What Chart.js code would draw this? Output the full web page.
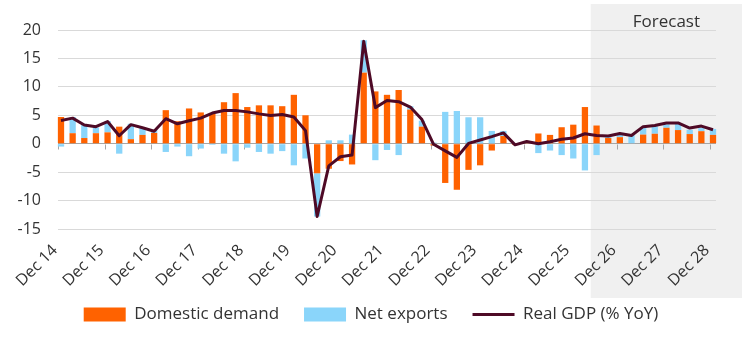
<!DOCTYPE html>
<html><head><meta charset="utf-8">
<script src="https://cdn.jsdelivr.net/npm/chart.js@4.4.1/dist/chart.umd.min.js"></script>
<style>html,body{margin:0;padding:0;background:#fff;}#wrap{width:742px;height:343px;}</style>
</head><body><div id="wrap"><canvas id="c" width="742" height="343"></canvas></div>
<script>
const quarters = [
 "Dec 14","Mar 15","Jun 15","Sep 15","Dec 15","Mar 16","Jun 16","Sep 16","Dec 16",
 "Mar 17","Jun 17","Sep 17","Dec 17","Mar 18","Jun 18","Sep 18","Dec 18",
 "Mar 19","Jun 19","Sep 19","Dec 19","Mar 20","Jun 20","Sep 20","Dec 20",
 "Mar 21","Jun 21","Sep 21","Dec 21","Mar 22","Jun 22","Sep 22","Dec 22",
 "Mar 23","Jun 23","Sep 23","Dec 23","Mar 24","Jun 24","Sep 24","Dec 24",
 "Mar 25","Jun 25","Sep 25","Dec 25","Mar 26","Jun 26","Sep 26","Dec 26",
 "Mar 27","Jun 27","Sep 27","Dec 27","Mar 28","Jun 28","Sep 28","Dec 28"];
const tickLabels = ["Dec 14","Dec 15","Dec 16","Dec 17","Dec 18","Dec 19","Dec 20","Dec 21","Dec 22","Dec 23","Dec 24","Dec 25","Dec 26","Dec 27","Dec 28"];
const domesticDemand = [4.7,1.85,1.0,1.85,2.0,3.0,0.8,1.55,1.9,5.9,3.95,6.2,5.5,5.3,7.3,8.9,6.45,6.75,6.75,6.6,8.6,5.0,-5.2,-4.4,-3.05,-3.65,12.5,9.2,8.6,9.45,6.0,3.0,-0.3,-6.9,-8.1,-4.6,-3.8,-1.2,1.35,-0.2,0.3,1.8,1.55,2.9,3.35,6.45,3.2,1.0,1.15,0.0,1.6,1.75,2.8,2.4,1.7,2.2,1.55];
const netExports = [-0.5,2.85,2.35,1.0,2.0,-1.75,2.7,1.2,0.5,-1.45,-0.5,-2.2,-0.85,-0.2,-1.75,-3.1,-0.7,-1.45,-1.75,-1.3,-3.8,-2.6,-7.6,0.6,0.6,1.6,5.7,-2.9,-1.1,-2.0,0.6,1.05,0.2,5.6,5.75,4.65,4.65,2.25,0.9,0.0,0.1,-1.65,-1.2,-2.0,-2.6,-4.7,-2.0,0.35,0.45,1.5,1.3,1.3,0.6,1.2,0.75,0.55,1.05];
const realGDP = [4.1,4.5,3.3,3.0,3.9,1.4,3.35,2.8,2.2,4.4,3.5,4.05,4.5,5.4,5.85,5.85,5.6,5.25,4.95,5.15,4.7,2.3,-12.8,-3.9,-2.3,-2.0,18.0,6.35,7.6,7.4,6.45,4.25,-0.1,-1.25,-2.4,0.05,0.65,1.25,1.9,-0.2,0.4,0.0,0.35,0.8,1.0,1.75,1.45,1.35,1.8,1.45,3.0,3.2,3.65,3.65,2.75,3.1,2.45];
const forecastStart = "Jun 26";
const yMin = -15, yMax = 20, yStep = 5;

const FONT = '"Open Sans", sans-serif';
const TXT = '#333333';

const decorPlugin = {
  id: 'decor',
  beforeDraw(chart) {
    const {ctx, scales: {x}} = chart;
    const i = quarters.indexOf(forecastStart);
    const left = (x.getPixelForValue(i - 1) + x.getPixelForValue(i)) / 2;
    ctx.save();
    ctx.fillStyle = '#f0f0f0';
    ctx.fillRect(left, 4, chart.width - left, 294);
    ctx.fillStyle = TXT;
    ctx.font = '17px ' + FONT;
    ctx.textAlign = 'center';
    ctx.textBaseline = 'middle';
    ctx.fillText('Forecast', (left + chart.width) / 2, 22);
    ctx.restore();
  },
  beforeDatasetsDraw(chart) {
    const {ctx, scales: {x, y}} = chart;
    const y0 = Math.round(y.getPixelForValue(0)) + 0.5;
    ctx.save();
    ctx.strokeStyle = '#a6a6a6';
    ctx.lineWidth = 1;
    tickLabels.forEach(l => {
      const px = Math.round(x.getPixelForValue(quarters.indexOf(l)) - 3) + 0.5;
      ctx.beginPath(); ctx.moveTo(px, y0); ctx.lineTo(px, y0 + 5); ctx.stroke();
    });
    ctx.restore();
  }
};

const gridColor = c => (c.tick && c.tick.value === 0) ? '#a6a6a6' : '#d9d9d9';

new Chart(document.getElementById('c'), {
  data: {
    labels: quarters,
    datasets: [
      {type: 'bar', label: 'Domestic demand', data: domesticDemand, backgroundColor: '#FF6200', borderWidth: 0, stack: 'c', order: 1, pointStyle: 'rect', clip: false, barPercentage: 0.54, categoryPercentage: 1},
      {type: 'bar', label: 'Net exports', data: netExports, backgroundColor: '#8AD5FA', borderWidth: 0, stack: 'c', order: 1, pointStyle: 'rect', clip: false, barPercentage: 0.54, categoryPercentage: 1},
      {type: 'line', label: 'Real GDP (% YoY)', data: realGDP, borderColor: '#4E0A26', backgroundColor: '#4E0A26', borderWidth: 3, pointRadius: 0, tension: 0, stack: 'gdp', order: 0, pointStyle: 'line', clip: false, borderJoinStyle: 'round'}
    ]
  },
  options: {
    responsive: false,
    devicePixelRatio: 1,
    animation: false,
    layout: {padding: {top: 30, right: 0, bottom: 10, left: 0}},
    plugins: {
      tooltip: {enabled: false},
      legend: {
        position: 'bottom',
        labels: {
          usePointStyle: true, pointStyleWidth: 42, boxHeight: 14,
          padding: 25, color: TXT, font: {family: FONT, size: 17},
          sort: (a, b) => a.datasetIndex - b.datasetIndex
        }
      }
    },
    scales: {
      x: {
        type: 'category', stacked: true, offset: false,
        afterFit: s => { s.height = 52; s._computeLabelArea = () => null; },
        grid: {display: false}, border: {display: false},
        ticks: {
          autoSkip: false, maxRotation: 45, minRotation: 45, padding: 4, labelOffset: -6,
          color: TXT, font: {family: FONT, size: 16},
          callback: function(v, i) { const l = quarters[i]; return tickLabels.includes(l) ? l : ''; }
        }
      },
      y: {
        type: 'linear', position: 'left', stacked: true, min: yMin, max: yMax,
        afterFit: s => { s.width = 61; },
        border: {display: false},
        grid: {color: gridColor, drawTicks: true, tickLength: 3, lineWidth: 1},
        ticks: {stepSize: yStep, padding: 17, color: TXT, font: {family: FONT, size: 16}}
      },
      y2: {
        type: 'linear', position: 'right', min: yMin, max: yMax,
        afterFit: s => { s.width = 29; },
        border: {display: false},
        grid: {color: gridColor, drawOnChartArea: false, drawTicks: true, tickLength: 3},
        ticks: {stepSize: yStep, display: false}
      }
    }
  },
  plugins: [decorPlugin]
});
</script>
</body></html>
